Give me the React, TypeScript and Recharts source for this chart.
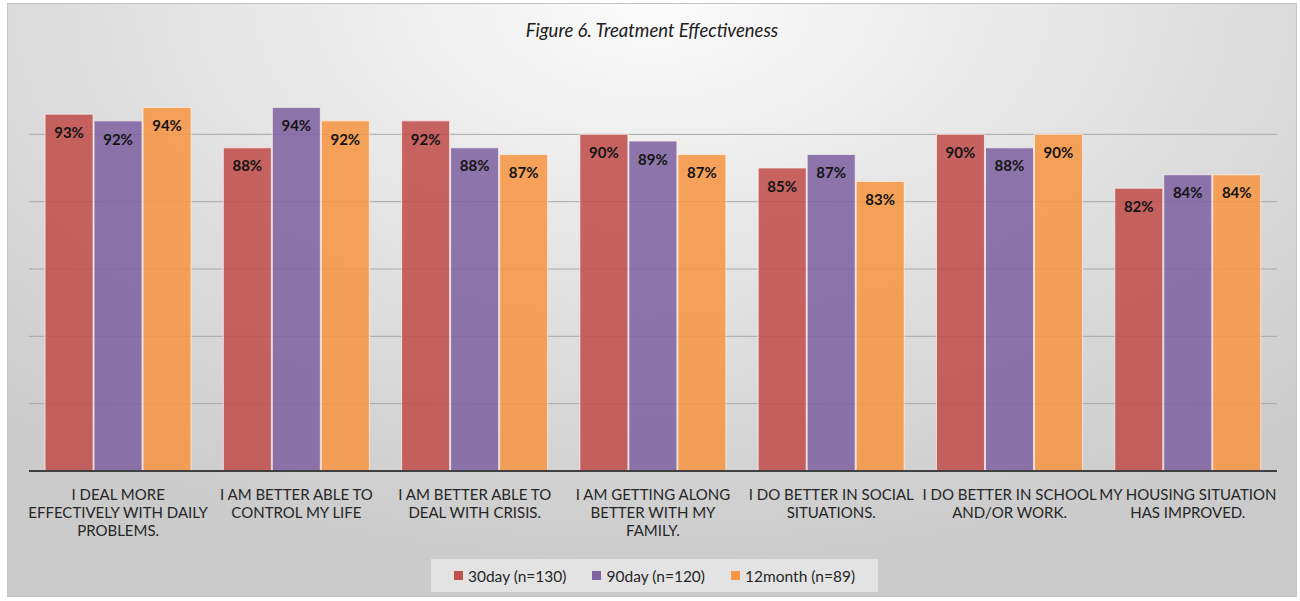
import { BarChart, Bar, XAxis, YAxis, CartesianGrid, LabelList } from "recharts";

// category labels, already broken into the lines the original shows
const categoryLines = [
  ["I DEAL MORE", "EFFECTIVELY WITH DAILY", "PROBLEMS."],
  ["I AM BETTER ABLE TO", "CONTROL MY LIFE"],
  ["I AM BETTER ABLE TO", "DEAL WITH CRISIS."],
  ["I AM GETTING ALONG", "BETTER WITH MY", "FAMILY."],
  ["I DO BETTER IN SOCIAL", "SITUATIONS."],
  ["I DO BETTER IN SCHOOL", "AND/OR WORK."],
  ["MY HOUSING SITUATION", "HAS IMPROVED."],
];

const day30 = [93, 88, 92, 90, 85, 90, 82];
const day90 = [92, 94, 88, 89, 87, 88, 84];
const month12 = [94, 92, 87, 87, 83, 90, 84];

const gridValues = [50, 60, 70, 80, 90];

const series = [
  { key: "day30", name: "30day (n=130)", color: "#c0504d" },
  { key: "day90", name: "90day (n=120)", color: "#8064a2" },
  { key: "month12", name: "12month (n=89)", color: "#f79646" },
];

const data = categoryLines.map((lines, i) => ({
  name: lines.join(" "),
  day30: day30[i],
  day90: day90[i],
  month12: month12[i],
}));

const FONT = "Lato, 'Open Sans', sans-serif";

const CategoryTick = (props: any) => {
  const { x, y, payload } = props;
  const lines = categoryLines[payload.index] || [payload.value];
  return (
    <text
      x={x}
      y={y + 21}
      textAnchor="middle"
      fill="#262626"
      style={{ fontSize: 15, fontFamily: FONT }}
    >
      {lines.map((l, i) => (
        <tspan key={i} x={x} dy={i === 0 ? 0 : 18}>
          {l}
        </tspan>
      ))}
    </text>
  );
};

const App = () => {
  return (
    <div
      style={{
        position: "absolute",
        left: 7,
        top: 3,
        width: 1290,
        height: 594,
        border: "1px solid #c4c4c4",
        boxSizing: "border-box",
        background:
          "radial-gradient(ellipse 75% 95% at 50% 0%, #fbfbfb 0%, #e0e0e0 55%, #cbcbcb 100%)",
        fontFamily: FONT,
      }}
    >
      <div
        style={{
          position: "absolute",
          top: 15,
          left: 0,
          width: "100%",
          textAlign: "center",
          fontStyle: "italic",
          fontSize: 18.5,
          color: "#202020",
        }}
      >
        Figure 6. Treatment Effectiveness
      </div>

      <BarChart
        width={1290}
        height={594}
        data={data}
        margin={{ top: 64, right: 20, left: 22, bottom: 46 }}
        barCategoryGap="9%"
        barGap={1}
        style={{ position: "absolute", left: -1, top: -1 }}
      >
        <CartesianGrid
          vertical={false}
          stroke="#a8a8a8"
          strokeWidth={1}
          horizontalValues={gridValues}
        />
        <YAxis hide domain={[40, 100]} ticks={[40, ...gridValues, 100]} />
        <XAxis
          dataKey="name"
          height={80}
          interval={0}
          tickLine={false}
          axisLine={{ stroke: "#404040", strokeWidth: 2 }}
          tick={<CategoryTick />}
        />
        {series.map((s) => (
          <Bar
            key={s.key}
            dataKey={s.key}
            name={s.name}
            fill={s.color}
            fillOpacity={0.88}
            stroke="#fff4f0"
            strokeOpacity={0.7}
            strokeWidth={1}
            isAnimationActive={false}
          >
            <LabelList
              dataKey={s.key}
              position="insideTop"
              offset={13}
              formatter={(v: any) => `${v}%`}
              style={{ fontSize: 15, fontWeight: 700, fill: "#141414", fontFamily: FONT }}
            />
          </Bar>
        ))}
      </BarChart>

      <div
        style={{
          position: "absolute",
          left: 423,
          top: 555,
          width: 447,
          height: 33,
          background: "rgba(232,232,232,0.8)",
          display: "flex",
          alignItems: "center",
          justifyContent: "center",
          gap: 26,
          fontSize: 15.5,
          color: "#262626",
        }}
      >
        {series.map((s) => (
          <div key={s.key} style={{ display: "flex", alignItems: "center", gap: 5 }}>
            <div style={{ width: 9, height: 9, background: s.color }} />
            <span>{s.name}</span>
          </div>
        ))}
      </div>
    </div>
  );
};

export default App;
